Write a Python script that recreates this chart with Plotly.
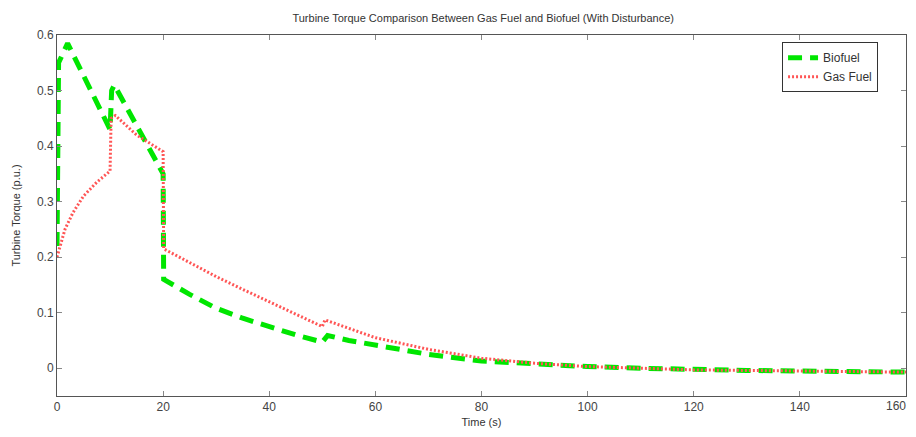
import plotly.graph_objects as go

# Biofuel series
bio_t = [0, 0.3, 2, 10, 10.3, 10.8, 20, 20.1, 25, 30, 35, 40, 45, 50, 51, 55, 60,
         70, 80, 90, 100, 110, 120, 130, 140, 150, 160]
bio_v = [0.22, 0.55, 0.585, 0.43, 0.50, 0.51, 0.35, 0.16, 0.133, 0.108, 0.09, 0.074,
         0.06, 0.047, 0.059, 0.05, 0.041, 0.025, 0.013, 0.007, 0.003, 0.0, -0.003,
         -0.004, -0.005, -0.006, -0.007]

# Gas fuel series
gas_t = [0, 1.5, 3, 5, 7.5, 10, 10.2, 11, 15, 20, 20.1, 25, 30, 35, 40, 45, 50, 50.5,
         55, 60, 70, 80, 90, 100, 110, 120, 130, 140, 150, 160]
gas_v = [0.2, 0.25, 0.28, 0.31, 0.335, 0.355, 0.45, 0.455, 0.42, 0.39, 0.215, 0.19,
         0.165, 0.142, 0.12, 0.097, 0.075, 0.087, 0.072, 0.055, 0.034, 0.018, 0.009,
         0.003, 0.0, -0.003, -0.004, -0.005, -0.006, -0.007]

x_ticks = [0, 20, 40, 60, 80, 100, 120, 140, 160]
y_ticks = [0, 0.1, 0.2, 0.3, 0.4, 0.5, 0.6]
y_labels = ["0", "0.1", "0.2", "0.3", "0.4", "0.5", "0.6"]

fig = go.Figure()
fig.add_trace(go.Scatter(x=bio_t, y=bio_v, mode="lines", name="Biofuel",
                         line=dict(color="#00e600", width=5, dash="14px,8px")))
fig.add_trace(go.Scatter(x=gas_t, y=gas_v, mode="lines", name="Gas Fuel",
                         line=dict(color="#ff5555", width=3, dash="2px,2px")))

axis_common = dict(showgrid=False, zeroline=False, showline=True, linecolor="#555555",
                   linewidth=1, mirror="ticks", ticks="inside", ticklen=5,
                   tickcolor="#888888", tickfont=dict(size=12, color="#444444"),
                   automargin=False)

fig.update_layout(
    width=900, height=421,
    margin=dict(l=49, r=2, t=27, b=33),
    paper_bgcolor="white", plot_bgcolor="white",
    font=dict(family="Liberation Sans, Arial, sans-serif", color="#333333"),
    title=dict(text="Turbine Torque Comparison Between Gas Fuel and Biofuel (With Disturbance)",
               x=0.528, xanchor="center", y=0.976, yanchor="middle",
               font=dict(size=11, color="#333333")),
    xaxis=dict(range=[0, 160], tickvals=x_ticks,
               title=dict(text="Time (s)", font=dict(size=11), standoff=4), **axis_common),
    yaxis=dict(range=[-0.05, 0.6], tickvals=y_ticks, ticktext=y_labels,
               title=dict(text="Turbine Torque (p.u.)", font=dict(size=11), standoff=14),
               **axis_common),
    legend=dict(x=0.854, y=0.98, xanchor="left", yanchor="top",
                bgcolor="white", bordercolor="#333333", borderwidth=1,
                font=dict(size=12, color="#333333"), tracegroupgap=0),
    showlegend=True,
)

# last tick label (Plotly drops it because it would overflow the figure edge)
fig.add_annotation(x=x_ticks[-1], y=0, xref="x", yref="paper", xanchor="right",
                   yanchor="top", xshift=2, yshift=-1, text=str(x_ticks[-1]),
                   showarrow=False, font=dict(size=12, color="#444444"))

fig.write_html("out.html")
